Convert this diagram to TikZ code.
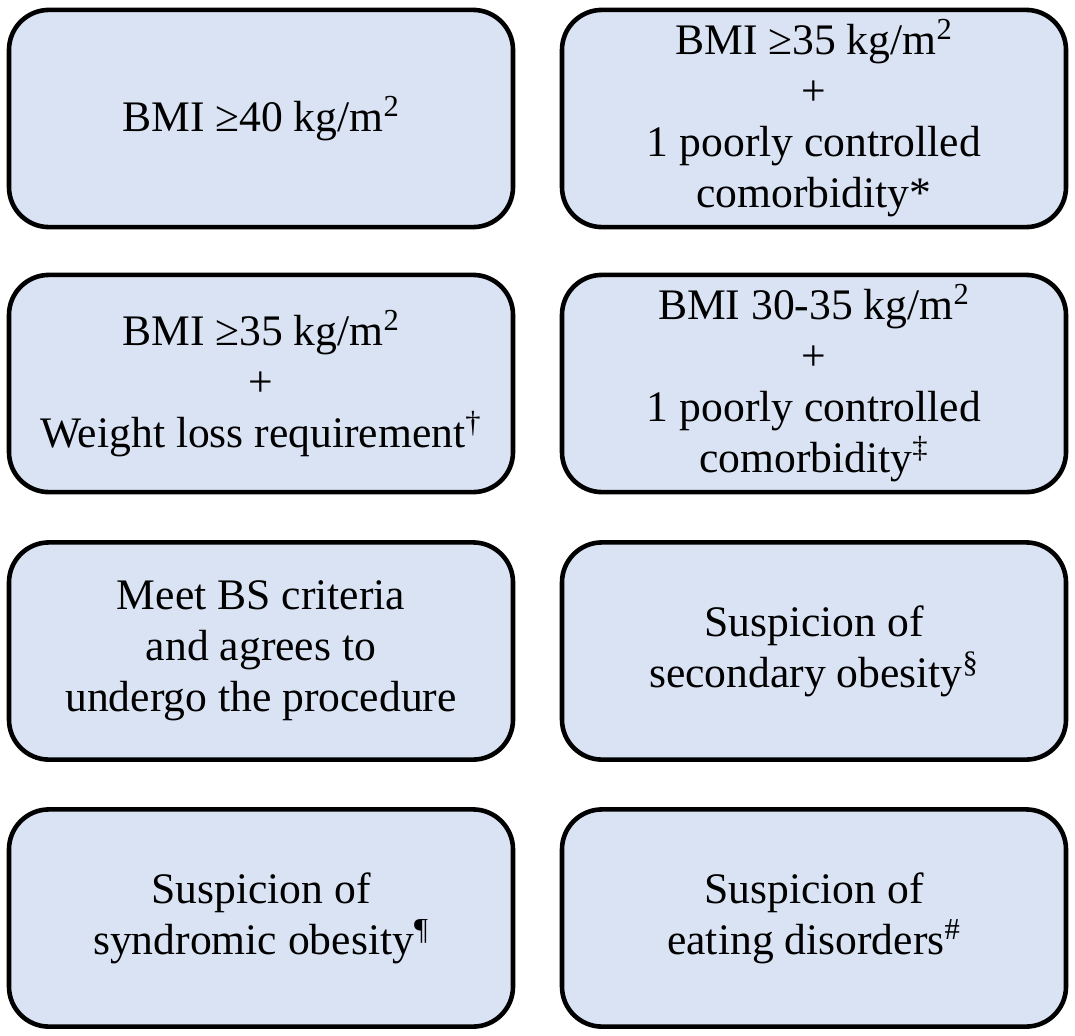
\documentclass[tikz,border=0pt]{standalone}
\usepackage{fontspec}
\setmainfont{Liberation Serif}
\definecolor{boxblue}{HTML}{DAE3F3}
\tikzset{
    critbox/.style={draw=black, line width=2.3pt, fill=boxblue, rounded corners=20pt,
        minimum width=252pt, minimum height=108.6pt, inner sep=0pt, align=center,
        font=\fontsize{21.8}{25.5}\selectfont}
}
\begin{document}
\begin{tikzpicture}[x=0.5pt, y=-0.5pt]
    \useasboundingbox (0,0) rectangle (1075,1035);
    % row 1
    \node[critbox] (bmi40) at (261,118.5) {BMI ≥40 kg/m\textsuperscript{2}};
    \node[critbox] (bmi35com) at (814,118.5) {BMI ≥35 kg/m\textsuperscript{2}\\+\\1 poorly controlled\\comorbidity*};
    % row 2
    \node[critbox] (bmi35wl) at (261,383.5) {BMI ≥35 kg/m\textsuperscript{2}\\+\\Weight loss requirement\textsuperscript{†}};
    \node[critbox] (bmi30com) at (814,383.5) {BMI 30-35 kg/m\textsuperscript{2}\\+\\1 poorly controlled\\comorbidity\textsuperscript{‡}};
    % row 3
    \node[critbox] (meetbs) at (261,651) {Meet BS criteria\\and agrees to\\undergo the procedure};
    \node[critbox] (secob) at (814,651) {Suspicion of\\secondary obesity\textsuperscript{§}};
    % row 4
    \node[critbox] (synob) at (261,918) {Suspicion of\\syndromic obesity\textsuperscript{¶}};
    \node[critbox] (eatdis) at (814,918) {Suspicion of\\eating disorders\textsuperscript{\#}};
\end{tikzpicture}
\end{document}
